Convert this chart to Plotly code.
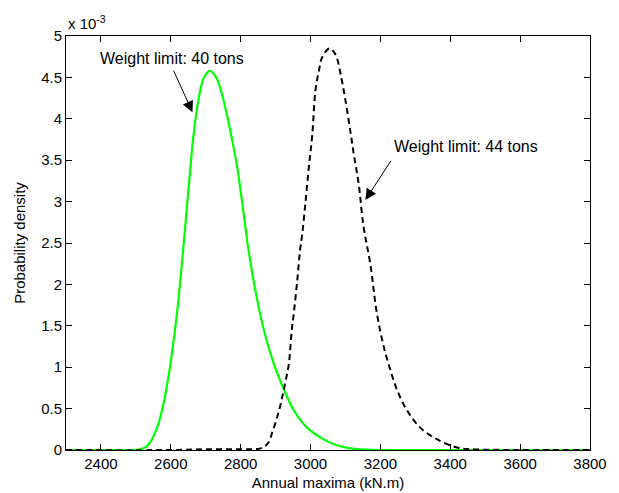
import plotly.graph_objects as go

# Annual maxima (kN.m) and probability density (x 1e-3)
x40 = [2300, 2400, 2500, 2514, 2530, 2545, 2560, 2575, 2590, 2605, 2620, 2635, 2650, 2665, 2680,
       2695, 2712, 2730, 2745, 2760, 2775, 2790, 2805, 2820, 2838, 2867, 2895, 2929, 2952, 2990,
       3029, 3067, 3114, 3162, 3300, 3500, 3800]
y40 = [0.0, 0.0, 0.0, 0.01, 0.04, 0.12, 0.26, 0.48, 0.80, 1.22, 1.74, 2.40, 3.12, 3.80, 4.25,
       4.50, 4.58, 4.50, 4.32, 4.06, 3.76, 3.42, 2.97, 2.49, 2.02, 1.44, 1.04, 0.68, 0.48, 0.27,
       0.15, 0.07, 0.02, 0.005, 0.0, 0.0, 0.0]

x44 = [2300, 2600, 2700, 2800, 2857, 2876, 2895, 2910, 2919, 2929, 2938, 2946, 2952, 2962, 2970,
       2976, 2986, 2995, 3005, 3014, 3024, 3033, 3054, 3071, 3086, 3100, 3114, 3124, 3138,
       3152, 3171, 3190, 3210, 3229, 3248, 3276, 3314, 3362, 3419, 3460, 3600, 3800]
y44 = [0.0, 0.0, 0.01, 0.01, 0.02, 0.07, 0.27, 0.48, 0.64, 0.84, 1.04, 1.44, 1.65, 2.05, 2.41,
       2.60, 3.01, 3.41, 3.81, 4.34, 4.58, 4.74, 4.85, 4.78, 4.54, 4.22, 3.85, 3.57, 3.21,
       2.69, 2.25, 1.65, 1.24, 0.96, 0.72, 0.48, 0.27, 0.13, 0.03, 0.01, 0.0, 0.0]

x_ticks = [2400, 2600, 2800, 3000, 3200, 3400, 3600, 3800]
y_ticks = [0, 0.5, 1, 1.5, 2, 2.5, 3, 3.5, 4, 4.5, 5]
y_tick_labels = ["0", "0.5", "1", "1.5", "2", "2.5", "3", "3.5", "4", "4.5", "5"]

font = "Liberation Sans, Arial, sans-serif"
fs = 15

fig = go.Figure()
fig.add_trace(go.Scatter(x=x40, y=y40, mode="lines", line=dict(color="#00ff00", width=2.2),
                         line_shape="spline", showlegend=False))
fig.add_trace(go.Scatter(x=x44, y=y44, mode="lines", line=dict(color="black", width=2, dash="6px,4px"),
                         line_shape="spline", showlegend=False))

axis_common = dict(showline=True, linecolor="black", linewidth=1, mirror="ticks",
                   ticks="inside", ticklen=6, tickcolor="black", showgrid=False, zeroline=False,
                   automargin=False, tickfont=dict(family=font, size=fs, color="black"))

fig.update_xaxes(range=[2300, 3800], tickvals=x_ticks, **axis_common,
                 title=dict(text="Annual maxima (kN.m)", font=dict(family=font, size=fs, color="black"),
                            standoff=6))
fig.update_yaxes(range=[0, 5], tickvals=y_ticks, ticktext=y_tick_labels, **axis_common,
                 title=dict(text="Probability density", font=dict(family=font, size=fs, color="black"),
                            standoff=11))

annotations = [
    dict(x=0, y=1, xref="paper", yref="paper", xanchor="left", yanchor="bottom",
         text="x 10<sup>-3</sup>", showarrow=False, yshift=2,
         font=dict(family=font, size=fs, color="black")),
    dict(x=2604, y=4.73, xref="x", yref="y", text="Weight limit: 40 tons", showarrow=False,
         font=dict(family=font, size=16, color="black")),
    dict(x=2662, y=4.08, ax=2606, ay=4.60, axref="x", ayref="y", xref="x", yref="y", text="",
         showarrow=True, arrowhead=2, arrowsize=2.2, arrowwidth=1, arrowcolor="black"),
    dict(x=3445, y=3.66, xref="x", yref="y", text="Weight limit: 44 tons", showarrow=False,
         font=dict(family=font, size=16, color="black")),
    dict(x=3157, y=3.02, ax=3233, ay=3.51, axref="x", ayref="y", xref="x", yref="y", text="",
         showarrow=True, arrowhead=2, arrowsize=2.2, arrowwidth=1, arrowcolor="black"),
]

fig.update_layout(width=619, height=493, margin=dict(l=66, r=29, t=36, b=43),
                  plot_bgcolor="white", paper_bgcolor="white", annotations=annotations,
                  font=dict(family=font, size=fs, color="black"))

fig.write_html("out.html", config={"displayModeBar": False},
               post_script="document.body.style.margin='0';")
